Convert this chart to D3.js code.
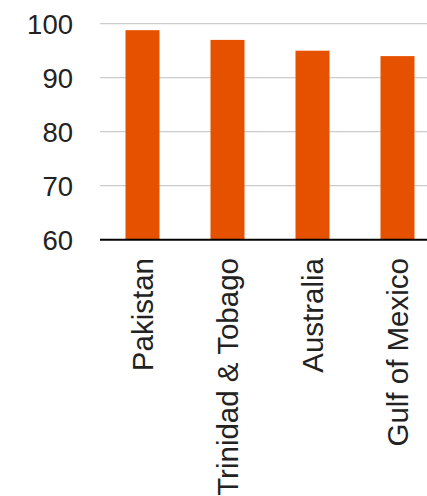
<!DOCTYPE html>
<html>
<head>
<meta charset="utf-8">
<script src="https://cdn.jsdelivr.net/npm/d3@7"></script>
<style>
  html, body { margin: 0; padding: 0; background: #fff; }
  svg { display: block; }
</style>
</head>
<body>
<svg id="chart" width="427" height="496"></svg>
<script>
// Categories and values
const categories = ["Pakistan", "Trinidad & Tobago", "Australia", "Gulf of Mexico"];
const values = [98.8, 97.0, 95.0, 94.0];
const yTicks = [60, 70, 80, 90, 100];

const svg = d3.select("#chart");
const font = "Liberation Sans, Arial, sans-serif";

const x = d3.scaleBand()
  .domain(categories)
  .range([100, 440])
  .paddingInner(0.6)
  .paddingOuter(0.3);

const y = d3.scaleLinear()
  .domain([60, 100])
  .range([239.7, 23.7]);

// Horizontal grid lines
svg.append("g")
  .selectAll("line")
  .data(yTicks.filter(d => d > 60))
  .join("line")
  .attr("x1", 100)
  .attr("x2", 427)
  .attr("y1", d => y(d))
  .attr("y2", d => y(d))
  .attr("stroke", "#cccccc")
  .attr("stroke-width", 1.2);

// Bars
svg.append("g")
  .selectAll("rect")
  .data(categories.map((c, i) => ({ c, v: values[i] })))
  .join("rect")
  .attr("x", d => x(d.c))
  .attr("width", x.bandwidth())
  .attr("y", d => y(d.v))
  .attr("height", d => y(60) - y(d.v))
  .attr("fill", "#e65100");

// Baseline
svg.append("line")
  .attr("x1", 100)
  .attr("x2", 427)
  .attr("y1", y(60))
  .attr("y2", y(60))
  .attr("stroke", "#000")
  .attr("stroke-width", 2);

// Y tick labels
svg.append("g")
  .selectAll("text")
  .data(yTicks)
  .join("text")
  .attr("x", 73)
  .attr("y", d => y(d))
  .attr("dy", "0.36em")
  .attr("text-anchor", "end")
  .attr("font-family", font)
  .attr("font-size", 27.5)
  .attr("fill", "#222")
  .text(d => d);

// Rotated category labels
svg.append("g")
  .selectAll("text")
  .data(categories)
  .join("text")
  .attr("transform", d => `translate(${x(d) + x.bandwidth() / 2},258) rotate(-90)`)
  .attr("dy", "0.36em")
  .attr("text-anchor", "end")
  .attr("font-family", font)
  .attr("font-size", 29.5)
  .attr("fill", "#222")
  .text(d => d);
</script>
</body>
</html>
